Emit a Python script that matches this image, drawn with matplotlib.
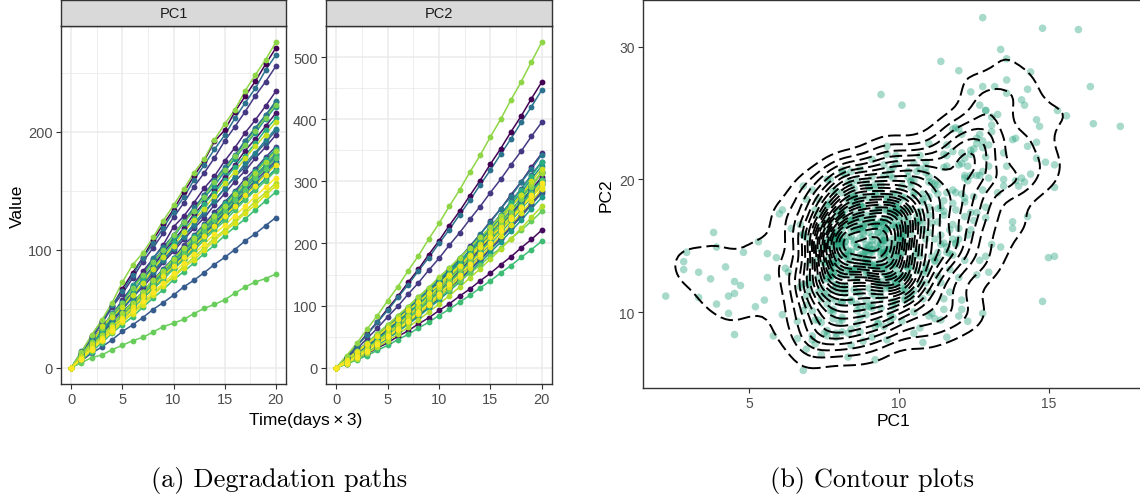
import numpy as np
import matplotlib
matplotlib.use("Agg")
import matplotlib.pyplot as plt
from matplotlib.ticker import AutoMinorLocator, FixedLocator

plt.rcParams["font.family"] = ["Liberation Sans", "DejaVu Sans"]

# ---------------------------------------------------------------------------
# Degradation increments per inspection interval (21 inspections -> 20 steps)
# one row per test unit; unit_ids gives the unit number of each row
# ---------------------------------------------------------------------------
time_points = [0, 1, 2, 3, 4, 5, 6, 7, 8, 9, 10, 11, 12, 13, 14, 15, 16, 17, 18, 19, 20]
unit_ids = [1, 2, 3, 5, 6, 7, 8, 10, 11, 12, 14, 15, 16, 17, 19, 20, 21, 23, 24, 25,
            26, 28, 29, 30, 32, 33, 34, 36, 4, 9, 13, 18, 22, 27, 31, 35]

pc1_steps = [
    [12.6, 14.3, 13.0, 12.1, 14.9, 13.5, 12.8, 15.2, 13.1, 12.4, 14.6, 13.8, 12.9, 16.5, 9.4, 15.6, 13.2, 12.7, 14.4, 13.6],
    [9.2, 7.6, 8.4, 9.8, 7.9, 8.7, 9.3, 7.4, 8.9, 9.6, 8.1, 7.7, 9.1, 8.5, 9.9, 7.8, 8.3, 9.4, 8.0, 8.6],
    [11.4, 9.7, 10.2, 12.1, 10.9, 9.3, 11.7, 10.4, 12.0, 9.9, 10.6, 11.8, 9.5, 10.8, 11.3, 10.0, 12.3, 9.8, 10.7, 11.2],
    [10.4, 12.8, 11.2, 9.9, 13.1, 11.7, 12.5, 10.6, 11.9, 15.2, 9.0, 11.5, 12.2, 10.1, 12.9, 11.3, 12.6, 10.9, 11.8, 12.4],
    [10.5, 9.1, 8.6, 11.0, 9.9, 10.8, 8.4, 9.7, 11.3, 9.2, 10.1, 9.5, 8.8, 10.9, 9.6, 10.3, 9.0, 10.7, 9.4, 10.2],
    [11.9, 13.4, 12.2, 13.8, 11.5, 12.9, 14.0, 11.8, 12.6, 13.3, 12.0, 13.9, 11.6, 12.8, 14.3, 12.1, 12.7, 13.5, 11.9, 13.0],
    [10.1, 8.6, 9.4, 7.9, 10.7, 9.0, 8.3, 10.2, 9.6, 8.8, 11.4, 8.1, 9.5, 10.0, 8.7, 9.2, 10.5, 8.4, 9.8, 9.1],
    [9.8, 11.5, 12.6, 10.4, 11.1, 13.0, 10.2, 11.8, 9.5, 12.3, 11.0, 10.6, 12.8, 11.4, 9.7, 11.9, 12.2, 10.3, 11.6, 10.9],
    [5.8, 6.6, 5.2, 6.1, 7.0, 5.5, 6.3, 6.8, 5.9, 6.2, 7.1, 5.6, 6.4, 6.9, 6.0, 6.7, 7.3, 6.1, 6.8, 6.9],
    [9.2, 10.7, 11.5, 9.0, 10.1, 8.7, 11.2, 9.8, 10.6, 9.4, 11.0, 8.9, 10.3, 11.7, 9.6, 10.0, 8.5, 10.8, 9.5, 10.4],
    [13.8, 12.2, 12.9, 14.1, 11.8, 13.6, 14.4, 12.5, 13.0, 13.9, 12.1, 14.7, 12.6, 13.3, 12.0, 14.2, 13.1, 12.4, 15.3, 12.8],
    [12.3, 10.1, 11.0, 12.9, 9.6, 11.4, 10.7, 15.2, 9.1, 9.8, 12.0, 11.6, 10.3, 12.7, 11.2, 9.9, 12.4, 11.0, 10.5, 12.1],
    [10.8, 8.9, 9.7, 11.4, 10.2, 8.6, 10.9, 11.6, 9.3, 10.0, 9.5, 11.1, 10.4, 8.8, 10.7, 9.9, 11.3, 9.1, 10.5, 9.8],
    [8.0, 9.5, 10.1, 7.6, 8.9, 9.7, 8.2, 7.8, 10.4, 9.0, 8.6, 9.3, 7.5, 10.0, 8.8, 9.1, 8.4, 9.6, 8.1, 9.2],
    [10.5, 12.0, 9.8, 11.7, 10.9, 15.0, 7.7, 11.3, 9.6, 11.9, 12.4, 10.2, 11.0, 9.9, 12.2, 10.8, 11.5, 10.4, 11.8, 10.6],
    [7.9, 8.8, 9.4, 7.3, 8.6, 9.1, 7.7, 8.2, 9.7, 8.0, 7.5, 8.9, 9.3, 7.8, 8.5, 9.0, 7.6, 8.7, 8.1, 8.4],
    [8.4, 9.9, 7.8, 10.3, 9.0, 8.2, 10.6, 9.4, 8.7, 9.8, 7.9, 10.1, 9.2, 8.5, 9.7, 10.4, 8.3, 9.5, 8.9, 9.6],
    [11.1, 9.8, 10.5, 12.0, 9.2, 10.9, 11.6, 9.5, 10.2, 11.3, 9.9, 10.6, 12.2, 9.4, 10.8, 11.0, 9.7, 10.3, 11.5, 9.6],
    [9.6, 8.1, 9.3, 10.2, 7.7, 9.0, 8.6, 10.5, 9.1, 8.0, 9.8, 8.8, 10.0, 7.9, 9.4, 8.5, 9.9, 8.3, 9.2, 8.7],
    [6.8, 6.9, 7.4, 8.3, 7.1, 6.6, 8.1, 7.7, 7.2, 8.4, 6.8, 7.5, 7.9, 7.0, 8.2, 7.3, 6.7, 7.8, 7.6, 7.5],
    [8.7, 7.4, 8.1, 9.2, 7.8, 8.5, 9.5, 7.2, 8.3, 8.9, 7.6, 8.0, 9.1, 8.4, 7.7, 8.8, 9.0, 7.9, 8.2, 8.6],
    [4.3, 4.3, 2.2, 4.5, 3.7, 3.9, 2.8, 4.5, 4.7, 2.8, 3.3, 4.8, 4.5, 3.3, 3.9, 5.6, 5.3, 4.2, 2.9, 3.8],
    [11.6, 10.2, 12.1, 11.3, 9.4, 12.7, 10.8, 11.5, 10.0, 12.4, 11.2, 9.9, 11.8, 12.5, 10.4, 11.1, 9.6, 12.3, 11.0, 10.7],
    [13.5, 14.2, 12.8, 14.6, 17.4, 14.6, 10.1, 13.1, 14.3, 12.9, 13.6, 14.1, 11.4, 16.4, 13.4, 12.0, 16.0, 13.6, 12.8, 14.8],
    [8.3, 7.1, 7.6, 8.7, 6.9, 7.8, 8.5, 7.3, 8.1, 7.0, 8.8, 7.5, 7.9, 8.4, 6.8, 8.0, 7.7, 8.6, 7.2, 8.2],
    [9.1, 11.2, 14.8, 7.6, 8.9, 10.3, 9.6, 12.2, 10.0, 9.4, 11.5, 10.8, 9.2, 11.0, 10.5, 9.7, 11.6, 10.1, 9.9, 10.9],
    [7.2, 8.1, 7.8, 6.9, 8.4, 7.5, 7.0, 8.6, 7.7, 7.3, 8.2, 6.8, 7.9, 8.3, 7.4, 7.6, 8.0, 7.1, 8.5, 7.6],
    [7.5, 8.6, 7.1, 8.9, 8.2, 7.4, 8.8, 7.9, 7.0, 8.5, 9.1, 7.6, 8.0, 8.7, 7.3, 8.3, 7.8, 8.4, 7.7, 8.1],
    [8.1, 9.9, 9.4, 7.8, 10.3, 8.6, 9.5, 8.0, 10.1, 8.5, 9.6, 8.2, 10.0, 9.1, 7.9, 10.2, 8.7, 9.3, 8.1, 9.9],
    [9.7, 7.9, 8.6, 9.9, 7.6, 9.2, 8.1, 9.8, 7.8, 8.9, 9.5, 7.9, 9.3, 7.7, 10.0, 8.2, 8.9, 9.6, 7.9, 8.8],
    [8.0, 9.8, 8.5, 10.2, 7.8, 9.3, 8.3, 9.9, 8.8, 7.7, 10.1, 8.6, 9.5, 8.1, 10.0, 9.0, 7.9, 9.7, 8.4, 9.3],
    [9.4, 7.7, 8.9, 9.6, 7.9, 9.0, 7.5, 9.7, 8.2, 9.1, 7.8, 9.8, 8.4, 7.9, 9.5, 8.8, 7.6, 9.5, 8.1, 9.2],
    [10.1, 8.4, 9.7, 8.1, 10.4, 9.0, 8.3, 10.2, 8.8, 9.9, 8.0, 10.3, 9.4, 8.5, 10.1, 9.2, 8.3, 10.1, 9.6, 8.6],
    [7.8, 9.6, 8.4, 10.0, 8.0, 9.2, 9.7, 7.9, 8.9, 9.6, 8.1, 9.9, 8.5, 9.1, 7.7, 9.5, 8.7, 9.8, 8.1, 9.3],
    [10.0, 8.3, 9.5, 8.0, 10.3, 8.8, 9.1, 10.1, 8.2, 9.8, 9.3, 8.4, 10.2, 8.9, 7.9, 9.9, 9.5, 8.5, 9.8, 8.7],
    [7.6, 9.3, 8.1, 9.6, 7.7, 8.9, 9.4, 7.8, 9.1, 8.4, 7.5, 9.5, 8.7, 8.0, 9.3, 7.8, 9.2, 8.3, 9.4, 7.9],
]

pc2_steps = [
    [17.5, 17.2, 20.1, 18.9, 21.3, 20.0, 22.4, 21.1, 23.6, 22.2, 24.5, 23.0, 25.2, 24.2, 26.4, 24.8, 27.0, 25.6, 28.1, 26.5],
    [6.4, 8.2, 7.5, 9.6, 8.4, 10.3, 9.1, 11.0, 9.8, 11.8, 10.7, 12.4, 11.4, 13.2, 12.2, 13.7, 12.8, 14.5, 13.5, 14.9],
    [9.4, 9.3, 11.8, 10.9, 13.1, 12.0, 14.4, 13.4, 15.5, 14.3, 16.7, 15.5, 17.7, 16.7, 18.9, 17.7, 19.9, 18.9, 20.8, 19.7],
    [11.1, 9.9, 13.8, 12.2, 15.1, 13.2, 16.9, 14.5, 17.7, 14.2, 19.4, 17.3, 20.3, 18.7, 21.7, 19.6, 22.7, 20.9, 23.8, 21.9],
    [8.4, 8.1, 10.6, 9.7, 12.1, 11.0, 13.2, 12.3, 14.5, 13.3, 15.4, 14.5, 16.5, 15.5, 17.7, 16.6, 18.6, 17.6, 19.6, 18.6],
    [15.1, 14.9, 17.2, 16.3, 18.4, 17.1, 19.5, 18.2, 20.3, 19.0, 21.1, 19.9, 21.8, 20.6, 22.5, 21.2, 23.4, 22.0, 23.9, 22.6],
    [9.3, 10.1, 11.1, 12.1, 12.1, 13.6, 13.3, 14.9, 14.6, 16.1, 15.8, 17.2, 17.0, 18.3, 18.1, 19.4, 19.0, 20.6, 20.1, 21.5],
    [10.4, 10.2, 12.8, 11.4, 14.2, 13.0, 16.0, 14.3, 16.7, 15.8, 17.9, 16.8, 19.2, 17.9, 20.3, 19.0, 21.6, 20.2, 22.6, 21.3],
    [8.2, 8.0, 10.4, 9.8, 11.6, 10.9, 13.0, 12.1, 14.1, 13.3, 15.1, 14.4, 16.3, 15.6, 17.4, 16.6, 18.5, 17.7, 19.5, 18.5],
    [8.9, 8.8, 11.0, 10.4, 12.8, 11.4, 13.9, 12.8, 14.7, 13.9, 16.0, 15.1, 17.1, 16.2, 18.3, 17.2, 19.3, 18.3, 20.3, 19.4],
    [16.8, 18.3, 17.9, 20.1, 19.2, 21.0, 20.4, 22.3, 21.0, 23.1, 22.0, 24.0, 23.1, 24.9, 23.8, 25.6, 24.7, 26.6, 25.2, 27.0],
    [9.3, 12.0, 11.5, 14.2, 12.6, 15.1, 14.2, 19.4, 15.4, 17.8, 16.3, 19.0, 17.8, 20.3, 19.2, 21.2, 20.3, 22.7, 21.2, 23.4],
    [7.7, 10.4, 9.8, 12.2, 11.1, 13.2, 12.2, 14.5, 13.4, 15.8, 14.7, 16.7, 15.9, 17.9, 16.9, 18.9, 17.8, 20.2, 18.8, 20.9],
    [9.2, 8.9, 11.6, 10.6, 12.8, 11.8, 14.2, 13.0, 15.2, 14.4, 16.4, 15.3, 17.5, 16.5, 18.7, 17.4, 19.7, 18.6, 20.7, 19.6],
    [10.0, 9.7, 12.6, 11.5, 13.6, 14.1, 15.5, 14.1, 16.3, 15.2, 17.5, 16.3, 18.7, 17.5, 20.1, 18.5, 20.9, 19.8, 22.1, 20.6],
    [8.1, 7.8, 10.3, 9.4, 11.5, 10.6, 12.7, 11.7, 13.8, 12.9, 14.9, 14.0, 16.0, 15.0, 17.1, 16.0, 18.1, 17.1, 19.0, 18.0],
    [8.7, 10.7, 10.0, 12.8, 11.8, 14.2, 13.1, 15.2, 14.3, 16.5, 15.4, 17.6, 16.6, 18.7, 17.6, 19.9, 18.7, 21.1, 19.8, 21.9],
    [9.9, 10.8, 11.6, 12.6, 13.5, 13.3, 14.9, 15.4, 15.2, 16.8, 17.3, 17.2, 18.6, 19.0, 18.9, 20.2, 20.7, 20.6, 21.9, 22.5],
    [7.9, 9.4, 9.2, 11.6, 11.0, 12.8, 12.4, 14.2, 13.5, 15.5, 14.6, 16.5, 15.7, 17.7, 16.8, 18.7, 17.9, 19.8, 18.9, 20.8],
    [5.6, 7.2, 6.8, 8.4, 7.9, 9.3, 8.5, 10.1, 9.4, 10.8, 10.1, 11.4, 10.8, 12.1, 11.4, 12.6, 11.9, 13.3, 12.5, 13.7],
    [8.5, 9.2, 10.8, 11.2, 11.7, 13.1, 12.9, 13.9, 14.6, 14.6, 16.2, 15.6, 17.1, 16.9, 18.3, 17.9, 19.4, 19.1, 20.4, 19.9],
    [11.2, 9.9, 11.2, 8.3, 12.5, 10.6, 13.2, 11.4, 12.0, 13.8, 11.1, 14.5, 12.3, 13.0, 14.9, 12.6, 15.3, 13.4, 14.5, 16.0],
    [8.1, 10.9, 10.2, 12.7, 11.6, 13.9, 12.9, 15.2, 14.2, 16.2, 15.5, 17.6, 16.6, 18.7, 17.7, 19.8, 18.7, 21.0, 19.8, 21.8],
    [19.5, 19.8, 22.9, 21.6, 24.0, 22.8, 25.6, 24.1, 26.8, 25.2, 27.5, 26.0, 28.9, 27.0, 29.8, 28.2, 31.3, 29.1, 32.2, 31.4],
    [6.6, 8.2, 8.6, 9.6, 10.5, 10.2, 11.7, 11.5, 12.7, 12.6, 13.7, 13.7, 14.9, 14.6, 15.8, 15.8, 16.8, 16.8, 17.7, 17.7],
    [10.3, 9.5, 10.8, 11.4, 13.9, 12.6, 15.3, 13.9, 16.5, 15.1, 17.6, 16.2, 18.8, 17.3, 19.9, 18.3, 21.0, 19.5, 21.8, 20.5],
    [7.6, 9.6, 9.5, 11.2, 10.9, 12.5, 12.2, 13.5, 13.2, 14.8, 14.4, 15.9, 15.6, 17.0, 16.5, 18.0, 17.5, 19.2, 18.4, 20.0],
    [8.4, 9.1, 10.1, 10.9, 12.0, 11.8, 13.3, 13.8, 13.7, 15.2, 15.7, 15.4, 16.9, 17.5, 17.3, 18.4, 19.1, 18.9, 20.0, 20.5],
    [11.9, 13.6, 12.3, 14.2, 13.3, 14.9, 13.4, 15.3, 14.5, 15.4, 14.8, 16.6, 15.0, 16.9, 15.8, 17.0, 16.3, 17.9, 16.3, 18.2],
    [13.6, 12.0, 14.1, 13.2, 14.0, 13.6, 15.3, 13.8, 15.7, 14.6, 15.6, 14.9, 16.6, 14.8, 16.9, 15.3, 17.3, 16.2, 17.2, 16.4],
    [11.5, 13.5, 12.6, 13.5, 13.0, 14.8, 13.1, 15.2, 14.2, 15.3, 14.5, 16.2, 14.4, 16.5, 15.5, 16.6, 15.8, 17.5, 15.7, 17.7],
    [13.4, 12.7, 13.7, 13.3, 14.3, 13.8, 14.9, 14.2, 15.3, 14.7, 15.7, 15.0, 16.2, 15.4, 16.5, 15.9, 16.9, 16.2, 17.4, 16.6],
    [12.6, 14.5, 12.8, 14.9, 13.9, 15.0, 14.3, 16.1, 14.4, 16.4, 15.3, 16.5, 15.7, 17.4, 15.6, 17.7, 16.6, 17.7, 16.9, 18.6],
    [12.7, 12.0, 13.1, 12.5, 14.2, 12.6, 14.7, 13.7, 14.8, 14.1, 15.8, 14.2, 16.2, 15.1, 16.1, 15.4, 17.1, 15.5, 17.5, 16.4],
    [12.8, 13.8, 13.3, 15.1, 13.4, 15.5, 14.5, 15.6, 14.9, 16.6, 14.8, 16.9, 15.8, 16.9, 16.2, 17.9, 16.1, 18.2, 17.1, 18.1],
    [12.9, 12.2, 13.2, 12.7, 13.7, 13.1, 14.3, 13.6, 14.7, 14.0, 15.2, 14.4, 15.6, 14.9, 16.0, 15.3, 16.5, 15.7, 16.8, 16.0],
]

facet_names = ["PC1", "PC2"]
pc1_ticks = [0, 100, 200]
pc2_ticks = [0, 100, 200, 300, 400, 500]
time_ticks = [0, 5, 10, 15, 20]
scatter_xticks = [5, 10, 15]
scatter_yticks = [10, 20, 30]

# ---------------------------------------------------------------------------
W, H = 1140, 502
fig = plt.figure(figsize=(W / 100, H / 100), dpi=100)
fig.patch.set_facecolor("white")


def rect(left, top, right, bottom):
    return [left / W, 1 - bottom / H, (right - left) / W, (bottom - top) / H]


DARK = "#333333"
TICKTXT = "#4D4D4D"
GRID = "#EBEBEB"

cmap = plt.get_cmap("viridis")
norm = plt.Normalize(min(unit_ids), max(unit_ids))
t = np.asarray(time_points, dtype=float)
draw_order = np.argsort(unit_ids)


def cumulative(steps):
    return np.concatenate([[0.0], np.cumsum(steps)])


def draw_facet(panel_box, strip_box, steps, name, yticks):
    ax = fig.add_axes(rect(*panel_box))
    paths = [cumulative(s) for s in steps]
    for i in draw_order:
        ax.plot(t, paths[i], color=cmap(norm(unit_ids[i])), lw=1.1, zorder=2,
                solid_capstyle="butt")
    for i in draw_order:
        ax.plot(t, paths[i], ls="none", marker="o", ms=4.2, mew=0,
                color=cmap(norm(unit_ids[i])), zorder=3)
    ymax = max(p.max() for p in paths)
    ax.set_ylim(-0.05 * ymax, 1.05 * ymax)
    ax.set_xlim(-1, 21)
    ax.xaxis.set_major_locator(FixedLocator(time_ticks))
    ax.yaxis.set_major_locator(FixedLocator(yticks))
    ax.xaxis.set_minor_locator(AutoMinorLocator(2))
    ax.yaxis.set_minor_locator(AutoMinorLocator(2))
    ax.grid(which="major", color=GRID, lw=1.1, zorder=0)
    ax.grid(which="minor", color=GRID, lw=0.6, zorder=0)
    ax.set_axisbelow(True)
    for s in ax.spines.values():
        s.set_color(DARK)
        s.set_linewidth(1.0)
    ax.tick_params(which="major", direction="out", length=3.5, width=0.8,
                   color=DARK, labelcolor=TICKTXT, labelsize=10.5, pad=2.5)
    ax.tick_params(which="minor", length=0)

    sax = fig.add_axes(rect(*strip_box))
    sax.set_facecolor("#D9D9D9")
    sax.set_xticks([])
    sax.set_yticks([])
    for s in sax.spines.values():
        s.set_color(DARK)
        s.set_linewidth(1.0)
    sax.text(0.5, 0.5, name, ha="center", va="center", fontsize=10.5,
             color="#1A1A1A", transform=sax.transAxes)
    return ax


draw_facet((61, 27, 286, 385), (61, 1, 286, 27), pc1_steps, facet_names[0], pc1_ticks)
draw_facet((326, 27, 552, 385), (326, 1, 552, 27), pc2_steps, facet_names[1], pc2_ticks)

fig.text(17 / W, 1 - 206 / H, "Value", rotation=90, ha="center", va="center",
         fontsize=12.5, color="black")
fig.text(306 / W, 1 - 420 / H, "Time(days\u2009\u00d7\u20093)", ha="center", va="center",
         fontsize=12.5, color="black")

# ---------------------------------------------------------------------------
# increments scatter with 2-D kernel density contours
# ---------------------------------------------------------------------------
x = np.concatenate([np.asarray(s, float) for s in pc1_steps])
y = np.concatenate([np.asarray(s, float) for s in pc2_steps])


def bandwidth_nrd(v):
    q75, q25 = np.percentile(v, [75, 25])
    spread = min(np.std(v, ddof=1), (q75 - q25) / 1.34)
    return 4 * 1.06 * spread * len(v) ** (-0.2)


def kde2d(xv, yv, n=100):
    hx = bandwidth_nrd(xv) / 4
    hy = bandwidth_nrd(yv) / 4
    gx = np.linspace(xv.min(), xv.max(), n)
    gy = np.linspace(yv.min(), yv.max(), n)
    ax_ = np.exp(-0.5 * ((gx[:, None] - xv[None, :]) / hx) ** 2) / np.sqrt(2 * np.pi)
    ay_ = np.exp(-0.5 * ((gy[:, None] - yv[None, :]) / hy) ** 2) / np.sqrt(2 * np.pi)
    z = ax_ @ ay_.T / (len(xv) * hx * hy)
    return gx, gy, z


def pretty_step(lo, hi, n=10):
    cell = (hi - lo) / n
    U = 10 ** np.floor(np.log10(cell))
    unit = U
    if 2 * U - cell < 1.5 * (cell - unit):
        unit = 2 * U
        if 5 * U - cell < 2.75 * (cell - unit):
            unit = 5 * U
            if 10 * U - cell < 1.5 * (cell - unit):
                unit = 10 * U
    return unit


gx, gy, z = kde2d(x, y)
step = pretty_step(z.min(), z.max(), 24)
levels = np.arange(step, z.max(), step)

ax3 = fig.add_axes(rect(643, 1, 1143, 389))
ax3.scatter(x, y, s=30, color="#1B9E77", alpha=0.38, edgecolors="none", zorder=2)
ax3.contour(gx, gy, z.T, levels=levels, colors="black", linewidths=1.4,
            linestyles=[(0, (6.5, 2.6))], zorder=3)
xr = x.max() - x.min()
yr = y.max() - y.min()
ax3.set_xlim(x.min() - 0.05 * xr, x.max() + 0.05 * xr)
ax3.set_ylim(y.min() - 0.05 * yr, y.max() + 0.05 * yr)
ax3.xaxis.set_major_locator(FixedLocator(scatter_xticks))
ax3.yaxis.set_major_locator(FixedLocator(scatter_yticks))
for s in ax3.spines.values():
    s.set_color(DARK)
    s.set_linewidth(1.0)
ax3.tick_params(direction="out", length=3.5, width=0.8, color=DARK,
                labelcolor=TICKTXT, labelsize=10, pad=2.5)
fig.text(893 / W, 1 - 422 / H, "PC1", ha="center", va="center", fontsize=12.5)
fig.text(606 / W, 1 - 195 / H, "PC2", rotation=90, ha="center", va="center", fontsize=12.5)

# sub-figure captions
fig.text(279 / W, 1 - 481 / H, "(a) Degradation paths", family="cmr10",
         fontsize=19, ha="center", va="center")
fig.text(872 / W, 1 - 481 / H, "(b) Contour plots", family="cmr10",
         fontsize=19, ha="center", va="center")

fig.savefig("out.png", dpi=100, facecolor="white")
